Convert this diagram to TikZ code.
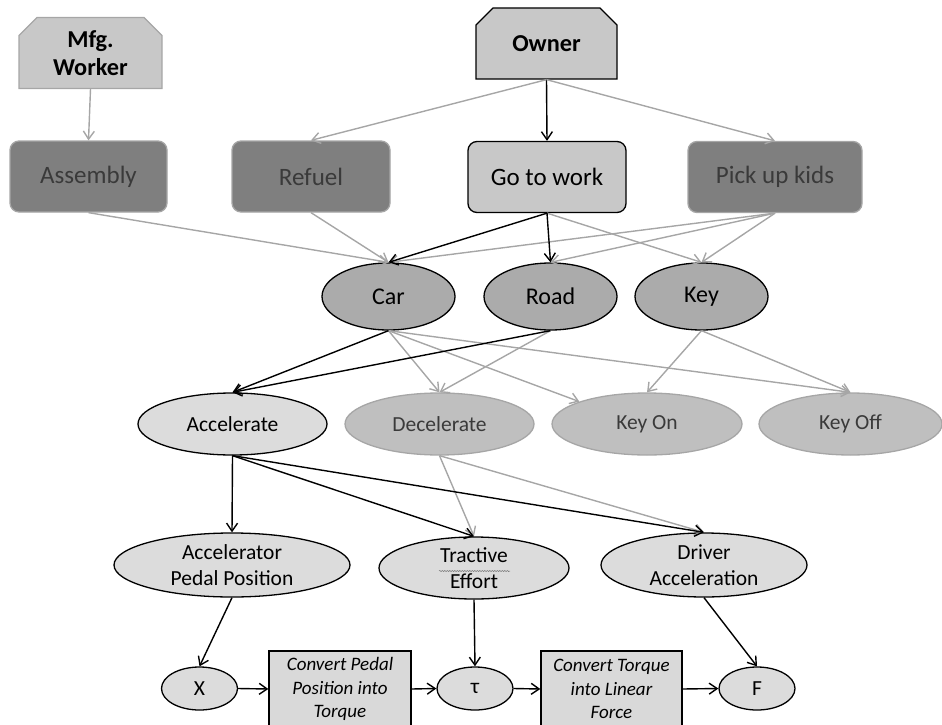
\documentclass[tikz,border=0pt]{standalone}
\usepackage{fontspec}
\setmainfont{Carlito}
\usetikzlibrary{shapes.geometric,shapes.misc,arrows.meta,decorations.pathmorphing}
\definecolor{actfill}{HTML}{C8C8C8}
\definecolor{dkfill}{HTML}{7F7F7F}
\definecolor{dktext}{HTML}{3A3A3A}
\definecolor{edgegray}{HTML}{A6A6A6}
\definecolor{midfill}{HTML}{ABABAB}
\definecolor{ltfill}{HTML}{DCDCDC}
\definecolor{fadefill}{HTML}{BFBFBF}
\definecolor{boxfill}{HTML}{D9D9D9}
\begin{document}
\begin{tikzpicture}[x=1pt,y=-1pt,
  base/.style={inner sep=0pt, line width=1.3pt, align=center,
    font=\fontsize{21.5}{26.2}\selectfont},
  actor/.style={base, chamfered rectangle,
    chamfered rectangle corners={north west,north east},
    chamfered rectangle xsep=9pt, chamfered rectangle ysep=9pt,
    minimum width=#1, minimum height=71pt, fill=actfill,
    font=\fontsize{24.3}{28.5}\selectfont\bfseries},
  usecase/.style={base, rectangle, rounded corners=9pt, minimum height=71pt,
    minimum width=#1, font=\fontsize{25}{30}\selectfont},
  dkcase/.style={usecase=#1, fill=dkfill, draw=edgegray, text=dktext},
  ltcase/.style={usecase=#1, fill=actfill, draw=black},
  obj/.style={base, ellipse, minimum width=133pt, minimum height=67pt,
    fill=midfill, draw=black, font=\fontsize{24}{29}\selectfont},
  fn/.style={base, ellipse, minimum width=#1, minimum height=62pt},
  fnon/.style={fn=#1, fill=ltfill, draw=black},
  fnoff/.style={fn=#1, fill=fadefill, draw=edgegray, text=dktext},
  sig/.style={base, ellipse, minimum width=#1, minimum height=64pt,
    fill=ltfill, draw=black},
  var/.style={base, ellipse, minimum width=76pt, minimum height=43pt,
    fill=ltfill, draw=black},
  conv/.style={base, rectangle, minimum width=142pt, minimum height=76pt,
    fill=boxfill, draw=black, font=\fontsize{19}{23.2}\selectfont\itshape},
  lbl/.style={inner sep=0pt, align=center, font=\fontsize{21.5}{26.2}\selectfont},
  blk/.style={draw=black, line width=1.4pt,
    -{Straight Barb[length=8pt,width=11pt,line width=1.4pt]}},
  gry/.style={draw=edgegray, line width=1.4pt,
    -{Straight Barb[length=8pt,width=11pt,line width=1.4pt]}}
]
\useasboundingbox (0,0) rectangle (942,725);

% actors
\node[actor=143pt, draw=edgegray] (mfg) at (90.5,53) {Mfg.\\Worker};
\node[actor=141pt, draw=black] (owner) at (546.5,43.5) {Owner};

% use cases
\node[dkcase=157pt] (assembly) at (88.5,176.5) {Assembly};
\node[dkcase=158pt] (refuel) at (311,176.5) {Refuel};
\node[ltcase=158pt] (work) at (547,177) {Go to work};
\node[dkcase=174pt] (kids) at (775,177) {Pick up kids};

% objects
\node[obj] (car) at (388.5,296.5) {Car};
\node[obj] (road) at (550.5,296.5) {Road};
\node[obj] (key) at (701.5,296.5) {Key};

% functions
\node[fnon=189pt] (acc) at (232.5,424) {Accelerate};
\node[fnoff=189pt] (dec) at (439.5,424) {Decelerate};
\node[fnoff=190pt] (keyon) at (647,424) {Key On};
\node[fnoff=183pt] (keyoff) at (850.5,424) {Key Off};

% signals
\node[sig=236pt] (app) at (232,565)
  {}; \node[lbl] (appt) at (app.center) {Accelerator\\Pedal Position};
\node[sig=190pt, minimum height=62pt] (te) at (474,568)
  {}; \node[lbl] (tet) at (te.center) {Tractive\\Effort};
\node[sig=206pt] (da) at (704,565)
  {}; \node[lbl] (dat) at (da.center) {Driver\\Acceleration};
\draw[draw=black!55, line width=0.5pt,
  decorate, decoration={snake, amplitude=0.6pt, segment length=2.5pt}]
  ([xshift=-35pt,yshift=-3pt]te.center) coordinate (sq1) -- ([xshift=36pt,yshift=-3pt]te.center) coordinate (sq2);

% computation chain
\node[var] (x) at (199.5,688.5) {X};
\node[conv] (c1) at (340,689) {Convert Pedal\\Position into\\Torque};
\node[var] (tau) at (475,688.5) {τ};
\node[conv, minimum width=141pt] (c2) at (611.5,689) {Convert Torque\\into Linear\\Force};
\node[var] (f) at (757,688.5) {F};

% edges: actors to use cases
\draw[gry] (mfg.south) -- (assembly.north);
\draw[gry] (owner.south) -- (refuel.north);
\draw[blk] (owner.south) -- (work.north);
\draw[gry] (owner.south) -- (kids.north);

% use cases to objects
\draw[gry] (assembly.south) -- (car.north);
\draw[gry] (refuel.south) -- (car.north);
\draw[gry] (kids.south) -- (car.north);
\draw[gry] (kids.south) -- (road.north);
\draw[gry] (kids.south) -- (key.north);
\draw[gry] (work.south) -- (key.north);
\draw[blk] (work.south) -- (car.north);
\draw[blk] (work.south) -- (road.north);

% objects to functions
\draw[gry] (car.south) -- (dec.north);
\draw[gry] (road.south) -- (dec.north);
\draw[gry] (car.south) -- (keyon.north west);
\draw[gry] (car.south) -- (keyoff.north);
\draw[gry] (key.south) -- (keyon.north);
\draw[gry] (key.south) -- (keyoff.north);
\draw[blk] (car.south) -- (acc.north);
\draw[blk] (road.south) -- (acc.north);

% functions to signals
\draw[gry] (dec.south) -- (te.north);
\draw[gry] (dec.south) -- (da.north);
\draw[blk] (acc.south) -- (app.north);
\draw[blk] (acc.south) -- (te.north);
\draw[blk] (acc.south) -- (da.north);

% signals to variables
\draw[blk] (app.south) -- (x.north);
\draw[blk] (te.south) -- (tau.north);
\draw[blk] (da.south) -- (f.north);

% chain
\draw[blk] (x.east) -- (c1.west);
\draw[blk] (c1.east) -- (tau.west);
\draw[blk] (tau.east) -- (c2.west);
\draw[blk] (c2.east) -- (f.west);
\end{tikzpicture}
\end{document}
